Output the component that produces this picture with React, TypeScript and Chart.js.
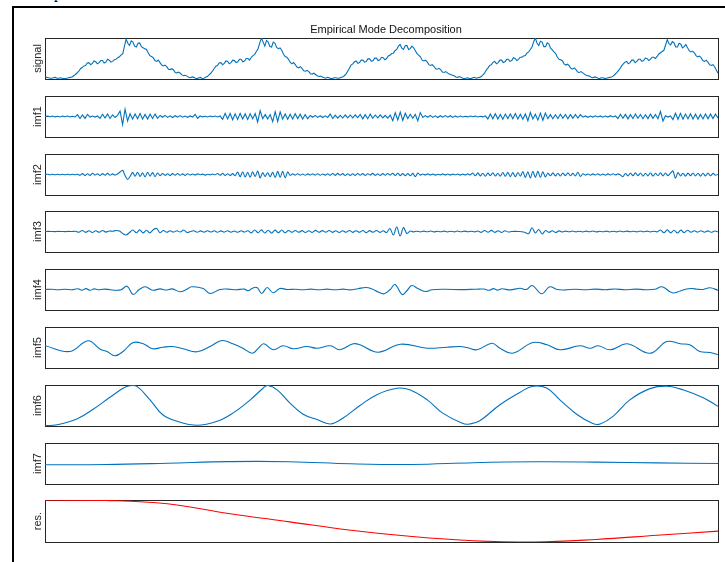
import React, { useEffect, useRef } from "react";
import { Chart, registerables } from "chart.js";

Chart.register(...registerables);

const TITLE = "Empirical Mode Decomposition";
const PANEL_LABELS = ["signal", "imf1", "imf2", "imf3", "imf4", "imf5", "imf6", "imf7", "res."];

// signal, sampled uniformly (0 = lowest, 100 = highest)
const signal = [
  6, 4, 3, 2, 2, 3, 4, 2, 2, 3, 2, 1, 1, 2, 3, 4, 5, 8, 11, 15,
  19, 25, 28, 32, 33, 39, 40, 35, 38, 44, 42, 37, 40, 45, 45, 39, 41, 48, 46, 41,
  43, 47, 48, 52, 54, 59, 62, 80, 97, 87, 82, 93, 90, 80, 78, 87, 88, 79, 76, 74,
  72, 64, 57, 55, 52, 45, 43, 46, 40, 34, 32, 34, 30, 24, 23, 25, 22, 16, 15, 17,
  14, 10, 8, 9, 7, 4, 3, 5, 4, 2, 1, 3, 4, 1, 2, 4, 6, 10, 14, 19,
  25, 31, 33, 39, 40, 35, 38, 44, 43, 37, 40, 46, 45, 40, 42, 48, 48, 42, 44, 50,
  50, 46, 53, 57, 60, 67, 74, 88, 100, 90, 80, 94, 90, 79, 78, 90, 87, 77, 74, 76,
  70, 61, 55, 53, 48, 41, 37, 40, 35, 29, 27, 30, 26, 20, 19, 21, 18, 13, 12, 14,
  11, 8, 6, 7, 5, 3, 2, 4, 3, 1, 1, 3, 3, 2, 2, 4, 5, 8, 12, 19,
  26, 34, 37, 42, 44, 38, 40, 46, 46, 41, 43, 49, 49, 43, 45, 51, 51, 45, 47, 53,
  52, 47, 50, 56, 58, 62, 63, 69, 72, 80, 84, 75, 72, 81, 82, 72, 74, 80, 76, 69,
  62, 58, 54, 46, 44, 46, 42, 35, 33, 35, 31, 25, 24, 26, 23, 17, 16, 18, 15, 12,
  11, 9, 8, 5, 4, 6, 4, 2, 1, 2, 3, 1, 1, 3, 4, 2, 3, 4, 6, 10,
  15, 22, 27, 33, 35, 41, 43, 37, 40, 46, 46, 40, 42, 48, 48, 43, 45, 52, 50, 45,
  48, 53, 53, 56, 57, 63, 66, 72, 78, 91, 100, 87, 82, 92, 90, 79, 79, 88, 85, 75,
  71, 66, 62, 53, 48, 47, 44, 37, 34, 36, 32, 26, 24, 27, 23, 17, 16, 18, 15, 12,
  9, 8, 7, 4, 3, 5, 4, 2, 1, 3, 3, 1, 2, 3, 4, 5, 7, 11, 15, 20,
  25, 32, 37, 41, 43, 37, 40, 46, 46, 40, 43, 48, 48, 43, 45, 51, 50, 45, 48, 53,
  53, 50, 55, 61, 64, 67, 70, 83, 96, 86, 83, 91, 88, 78, 78, 87, 85, 76, 79, 84,
  76, 69, 66, 68, 64, 57, 54, 56, 52, 45, 43, 46, 41, 35, 33, 35, 30, 22, 14,
];

const imf1 = [
  0, 0.4, -0.3, 0.5, -0.4, 0.3, -0.5, 0.4, -0.3, 0.5, -0.4, 0.3, -0.5,
  1.8, -2.1, 1.5, -1.9, 2.2,
  -0.5, 0.4, -0.6, 0.5,
  -1.8, 2.2, -1.6, 2.4, -2.0, 1.7,
  -1.0, 1.2,
  5.5, -8.0, 7.3, -4.5,
  2.8, -2.4, 2.6, -2.2, 2.9, -2.5, 2.1, -2.6, 2.3, -2.0, 2.4, -1.8,
  1.0, -0.8, 1.1, -0.9, 0.7, -1.0, 0.8, -0.6, 0.9, -0.7, 0.5, -0.8, 0.6, -0.5,
  2.2, -1.8,
  0.5, -0.4, 0.3, -0.5, 0.4, -0.3, 0.5, -0.4, 0.6,
  -2.8, 3.2, -2.5, 3.0, -3.3, 2.7, -2.9, 3.1, -2.4, 2.6, -3.0, 2.8, -2.2, 3.0,
  -5.5, 5.8,
  -2.2, 1.9, -2.4, 2.0,
  -5.2, 4.8, -5.0, 4.6,
  -2.6, 2.4, -2.8, 2.2, -2.5, 2.7, -2.1, 2.3, -2.6, 1.9, -2.2,
  1.0, -0.8, 1.1, -0.9, 0.8, -1.0, 0.7, -0.9,
  2.4, -2.0,
  1.4, -1.6, 1.2, -1.5, 1.7, -1.3, 1.5, -1.4, 1.6, -1.2,
  2.1, -2.3, 1.9, -2.2, 2.4, -1.8,
  1.5, -1.3, 1.6, -1.4, 1.2, -1.6, 1.4,
  -4.2, 3.8, -3.5, 4.4, -3.9, 3.2,
  -2.0, 2.2, -1.8, 2.1,
  -4.3, 3.9,
  -1.0, 0.9, -0.8, 1.1, -0.9, 0.7, -1.0, 0.8, -0.6, 0.9, -0.7, 0.8, -0.9, 0.6, -0.7,
  0.4, -0.5, 0.3, -0.4, 0.5, -0.3, 0.4, -0.5, 0.3, -0.4, 0.5,
  -2.4, 2.6, -2.2, 2.8, -2.5, 2.1, -2.7, 2.4, -2.0, 2.6, -2.3, 2.9, -2.6, 2.2, -2.8, 2.5,
  -4.2, 4.0,
  -2.5, 2.3,
  -3.6, 3.4, -3.8, 3.5,
  -2.1, 1.9, -2.2, 1.8, -2.0, 2.3, -1.7, 2.0, -2.2, 1.9, -1.8, 2.1, -1.6, 1.8,
  -0.7, 0.6, -0.8, 0.5, -0.6, 0.7, -0.5, 0.6, -0.7, 0.5, -0.6, 0.8, -0.5, 0.6,
  -2.0, 2.2, -1.8, 2.1, -2.3, 1.9, -2.0, 2.4, -1.7, 2.0, -2.2, 1.8, -2.1, 2.3, -1.9, 2.0, -2.2,
  5.0, -4.6,
  0.7, -0.6, 0.5,
  -3.0, 3.2, -2.8, 3.1,
  -2.6, 2.4, -2.2, 2.7, -2.5, 2.3, -2.6, 2.1, -2.4, 2.6, -2.3, 2.5, -2.1, 2.4, -1.5,
];

const imf2 = [
  0, 0.3, -0.2, 0.3, -0.3, 0.2, -0.3, 0.3, -0.2, 0.3, -0.3, 0.2, -0.2, 0.3,
  -0.8, 0.9, -1.1, 0.7, -0.9, 1.2, -0.6, 0.8, -1.0, 0.9, -0.7, 1.1, -0.8, 0.6, -0.5,
  0.5, 2.5, 4.3, -1, -5, -2,
  2.1, -1.8, 2.3, -2.0, 1.7, -2.4, 2.2, -1.6, 1.9, -2.1, 1.5, -1.2,
  1.0, -0.9, 0.8, -1.1, 0.9, -0.7, 1.0, -0.8, 0.6, -0.9, 0.7, -0.5,
  0.5, -0.4, 0.6, -0.3, 0.4, -0.6, 0.3, -0.4, 0.5, -0.3,
  1.0, -0.8, 1.2, -0.9, 0.7, -1.1, 0.9, -1.2,
  2.4, -2.2, 2.7, -2.5, 2.1, -2.8, 2.6, -2.0,
  3.5, -3.5, 2,
  -2.0, 1.8, -2.2, 2.1,
  -3.0, 3.2, -2.8, 3.1, -3.3, 2.6,
  -0.8, 0.7, -0.6, 0.8, -0.7, 0.5, -0.8, 0.6, -0.5, 0.7, -0.6, 0.8, -0.7, 0.5, -0.6, 0.7, -0.8,
  1.0, -0.9, 1.1, -0.8, 0.9, -1.0, 0.7, -1.1, 0.8, -0.9, 1.0, -0.7, 0.9, -1.0, 0.8, -0.6, 1.1, -0.9, 0.7, -1.0, 0.9, -0.8, 1.0, -0.7,
  1.2, -1.0, 1.3, -1.1, 0.9, -1.2, 1.0, -1.3, 1.1,
  -2.2, 1.5,
  -0.6, 0.5, -0.4, 0.6, -0.5, 0.4, -0.6, 0.3, -0.5, 0.6, -0.4, 0.5, -0.6, 0.4, -0.3, 0.5, -0.6, 0.4, -0.5, 0.6, -0.4,
  1.5, -1.3, 1.6, -1.4, 1.2, -1.7, 1.4, -1.1, 1.6, -1.5, 1.3, -1.6,
  2.0, -1.8, 2.2, -2.1, 1.9, -2.3, 2.0, -1.7,
  3.0, -3.2, 2.8, -3.4, 3.3, -2.9, 3.1, -3.0, 2.7, -2.5,
  1.5, -1.3, 1.6, -1.4, 1.2, -1.5, 1.4, -1.2, 1.6, -1.3, 1.1, -1.4,
  2.2, -2.0,
  0.7, -0.6, 0.5, -0.7, 0.6, -0.5, 0.7, -0.6, 0.4, -0.7, 0.6, -0.5, 0.7, -0.4, 0.6, -0.5,
  -2.2, 1.0,
  -1.4, 1.5, -1.3, 1.6, -1.2, 1.5, -1.6, 1.3, -1.4, 1.7, -1.5, 1.2, -1.3, 1.6, -1.4, 1.5, -1.2, 1.4,
  3.5, -3.8, 2.0,
  -1.5, 1.3, -1.6, 1.4, -1.2, 1.5, -1.4, 1.3, -1.6, 1.2, -1.5, 1.4, -1.3, 1.1, -0.8, 0.3,
];

const imf3 = [
  0, 0.1, 0, -0.1, 0.1, 0, -0.1, 0.1, 0, 0.2,
  -0.8, 1.0, -0.9, 0.8, -1.0, 0.7, -0.8, 1.0, -0.6, 0.5,
  0.3, 1.0, 0.5, -2.0, -3.5, -1.0,
  1.5, -1.2, 1.6, -1.4, 1.3, -1.5, 1.8, 3.0, -1.2, 1.0,
  -0.8, 0.7, -0.6, 0.8, -0.5,
  1.5, -1.0, 0,
  0.7, -0.8, 0.6, -0.7, 0.8, -0.5, 0.7, -0.8, 0.6, -0.6, 0.8, -0.7, 0.5, -0.8, 0.7, -0.6, 0.8,
  -1.4, 1.5, -1.2, 1.6, -1.5, 1.3, -1.6, 1.4, -1.2, 1.5, -1.3, 1.0,
  -0.9, 1.0, -0.8, 0.9, -1.0, 0.7, -0.9, 1.1, -0.8, 0.9, -0.7, 1.0, -0.9, 0.8, -1.0, 0.7, -0.8, 1.0, -0.9, 0.8, -0.7, 1.0, -1.1, 0.9, -0.8, 1.0, -0.9, 0.7, -1.0,
  3.0, -3.5, 4.5, -4.5, 4.0, -2.0,
  0.5, -0.4, 0.3, -0.5, 0.4, -0.3, 0.5, -0.4, 0.2, -0.3, 0.4, -0.5, 0.3, -0.4, 0.5, -0.3, 0.4, -0.2, 0.3, -0.4, 0.5,
  -0.9, 1.0, -0.8, 1.1, -0.9, 0.8, -1.0, 0.7, -0.5,
  0, 0.1, 0, -0.2,
  -1.0, -2.2, 3.7, -1.5, 2.0, -2.5,
  1.0, -0.9, 0.8, -1.0, 0.6,
  -0.5, 0.4, -0.3, 0.5, -0.4, 0.3, -0.5, 0.4, -0.3, 0.5, -0.4, 0.2, -0.3, 0.4, -0.5, 0.3, -0.4, 0.5, -0.3, 0.4, -0.2, 0.3, -0.4, 0.5, -0.3, 0.4, -0.5, 0.3, -0.4,
  1.5, -1.3, 1.6, -1.4, 1.2, -1.5, 1.4, -1.2, 1.3,
  -0.8, 0.7, -0.6, 0.8, -0.7, 0.6, -0.8, 0.5, -0.3,
];

// imf4 / imf5 / imf6: sample time (0..1000) and value
const imf4Time = [
  0, 10, 19, 30, 40, 49, 55, 61, 67, 73, 79, 88, 97, 106, 113, 122, 131, 140, 149, 160,
  171, 180, 189, 201, 210, 218, 235, 245, 260, 272, 284, 296, 302, 308, 315, 322, 330, 339, 349, 360,
  372, 383, 395, 407, 419, 431, 443, 453, 465, 477, 486, 495, 504, 513, 520, 531, 538, 545, 554, 565,
  575, 594, 617, 639, 652, 660, 666, 672, 679, 691, 706, 715, 724, 738, 750, 761, 773, 788, 802, 817,
  832, 847, 862, 877, 892, 906, 917, 932, 944, 953, 961, 969, 978, 988, 1000,
];
const imf4 = [
  0, 0.3, -0.2, 0.3, -0.2, 0.8, -0.7, 0.9, -0.8, 0.6, -0.3, 0.4, -0.2, -0.8, -0.3, 3.3, -5, 0, 2.7, -0.7,
  0.6, -0.5, 0.6, -2.3, 0, 2.7, 1, -4, 0, 0.4, -0.3, 0.4, -1.3, 1.3, 2, -4, 2, -3.3, 1, 0,
  0.3, -0.3, 0.4, -0.3, 0.4, -0.3, 0.4, -0.4, 0.8, 2.0, 0.5, -2.5, -4.3, 0, 5, -5, -1, 4, 1, -2,
  -0.3, 0.2, -0.1, 0.2, 0.5, -0.8, 0.9, -0.6, 0.7, -0.4, 1.2, 0, 4, -4.3, 2.7, 0, -0.4, 0.3, -0.3, 0.4,
  -0.2, 0.5, -0.3, 0.4, -0.2, 0.2, 2.7, -3.3, -1.5, 0.5, 1, 0.3, 0, 1.7, -0.7,
];

const imf5Time = [
  0, 37, 64, 82, 92, 104, 116, 131, 146, 160, 175, 190, 205, 226, 245, 263, 279, 294, 308, 317,
  325, 339, 354, 369, 389, 404, 424, 438, 458, 468, 495, 528, 568, 597, 617, 627, 642, 664, 676, 695,
  725, 746, 765, 795, 810, 822, 840, 865, 899, 924, 944, 958, 973, 988, 1000,
];
const imf5 = [
  1.7, -4, 6.7, -1.7, -4, -8.3, -4, 5, 3.7, -1.3, 0.3, 1, -1.3, -4.3, 1, 7, 3.7, -0.7, -5.7, -0.7,
  3.7, -2.3, 1.7, -1.3, 1, -0.7, 1.7, -2.3, 3.7, 2.7, -4.7, 3.3, -0.7, 0.3, 1, 0, -2.3, 4.3, -0.7, -5.7,
  5, 2.7, -2.3, 1.7, -0.7, 1.7, -2.3, 3.7, -5.7, 6, 3.7, 2.7, -4, -5, -7,
];

const imf6Time = [
  0, 18, 48, 71, 97, 116, 126, 137, 156, 175, 196, 226, 256, 279, 305, 324, 331, 345, 364, 383,
  404, 424, 443, 468, 493, 523, 542, 568, 591, 621, 631, 646, 676, 706, 725, 746, 765, 791, 814, 825,
  844, 869, 899, 924, 948, 978, 1000,
];
const imf6 = [
  0, 0.02, 0.17, 0.4, 0.71, 0.93, 0.99, 0.97, 0.64, 0.27, 0.11, 0.01, 0.11, 0.31, 0.64, 0.93, 1.0, 0.89, 0.56, 0.29,
  0.15, 0.04, 0.19, 0.5, 0.77, 0.93, 0.89, 0.64, 0.31, 0.05, 0.04, 0.12, 0.52, 0.83, 0.98, 0.93, 0.64, 0.27, 0.05, 0.04,
  0.23, 0.64, 0.92, 0.98, 0.89, 0.69, 0.48,
];

const imf7 = [-1.3, -1.0, 0.3, 1.9, 1.8, -0.3, -1.0, 0.8, 1.7, 1.4, 0.6, 0];
const residue = [1.0, 0.99, 0.91, 0.68, 0.48, 0.28, 0.13, 0.03, 0.0, 0.06, 0.16, 0.26];

const BLUE = "#0072BD";
const RED = "#FF0000";
const FONT = "'Liberation Sans', Arial, Helvetica, sans-serif";

type Series = {
  label: string;
  t: number[] | null;
  v: number[];
  yMin: number;
  yMax: number;
  color: string;
  tension: number;
};

const SERIES: Series[] = [
  { label: PANEL_LABELS[0], t: null, v: signal, yMin: 0, yMax: 100, color: BLUE, tension: 0 },
  { label: PANEL_LABELS[1], t: null, v: imf1, yMin: -20.5, yMax: 20.5, color: BLUE, tension: 0 },
  { label: PANEL_LABELS[2], t: null, v: imf2, yMin: -20.5, yMax: 20.5, color: BLUE, tension: 0.3 },
  { label: PANEL_LABELS[3], t: null, v: imf3, yMin: -20.5, yMax: 20.5, color: BLUE, tension: 0.35 },
  { label: PANEL_LABELS[4], t: imf4Time, v: imf4, yMin: -20.5, yMax: 20.5, color: BLUE, tension: 0.4 },
  { label: PANEL_LABELS[5], t: imf5Time, v: imf5, yMin: -20.5, yMax: 20.5, color: BLUE, tension: 0.4 },
  { label: PANEL_LABELS[6], t: imf6Time, v: imf6, yMin: -0.01, yMax: 1.01, color: BLUE, tension: 0.4 },
  { label: PANEL_LABELS[7], t: null, v: imf7, yMin: -20.5, yMax: 20.5, color: BLUE, tension: 0.4 },
  { label: PANEL_LABELS[8], t: null, v: residue, yMin: 0, yMax: 1, color: RED, tension: 0.4 },
];

// layout (page coordinates; body margin removed so the root covers the whole window)
const CANVAS_LEFT = 20;
const CANVAS_WIDTH = 701;
const PAD_L = 25;
const PAD_R = 3;
const TOPS = [38, 96, 154, 211, 269, 327, 385, 443, 500];
const HEIGHTS = [41, 41, 41, 41, 41, 41, 41, 41, 42];

function Panel({ s, index }: { s: Series; index: number }) {
  const ref = useRef<HTMLCanvasElement | null>(null);
  const isFirst = index === 0;
  const padTop = isFirst ? 22 : 4;
  const padBottom = 4;
  const h = HEIGHTS[index] + padTop + padBottom;
  const canvasTop = TOPS[index] - padTop;

  useEffect(() => {
    const canvas = ref.current;
    if (!canvas) return;
    const xs = s.t ? s.t : s.v.map((_, i) => i);
    const xMax = s.t ? s.t[s.t.length - 1] : s.v.length - 1;
    const decor = {
      id: "decor" + index,
      beforeDatasetsDraw(chart: any) {
        const { ctx, chartArea } = chart;
        const { left, top, right, bottom } = chartArea;
        ctx.save();
        ctx.strokeStyle = "#262626";
        ctx.lineWidth = 1;
        ctx.strokeRect(
          Math.round(left) + 0.5,
          Math.round(top) + 0.5,
          Math.round(right - left),
          Math.round(bottom - top)
        );
        ctx.restore();
      },
      afterDraw(chart: any) {
        const { ctx, chartArea } = chart;
        const { left, top, right, bottom } = chartArea;
        ctx.save();
        ctx.fillStyle = "#262626";
        ctx.font = `11px ${FONT}`;
        ctx.textAlign = "center";
        ctx.textBaseline = "alphabetic";
        ctx.translate(40.5 - CANVAS_LEFT, (top + bottom) / 2);
        ctx.rotate(-Math.PI / 2);
        ctx.fillText(s.label, 0, 0);
        ctx.restore();
        if (isFirst) {
          ctx.save();
          ctx.fillStyle = "#111";
          ctx.font = `11px ${FONT}`;
          ctx.textAlign = "center";
          ctx.textBaseline = "alphabetic";
          ctx.fillText(TITLE, (left + right) / 2 + 4.5, top - 5);
          ctx.restore();
        }
      },
    };
    const chart = new Chart(canvas, {
      type: "line",
      data: {
        datasets: [
          {
            data: xs.map((x, i) => ({ x, y: s.v[i] })),
            borderColor: s.color,
            borderWidth: 1.1,
            pointRadius: 0,
            tension: s.tension,
            fill: false,
          },
        ],
      },
      options: {
        animation: false,
        responsive: false,
        maintainAspectRatio: false,
        devicePixelRatio: 1,
        events: [],
        layout: { padding: { left: PAD_L, right: PAD_R, top: padTop, bottom: padBottom } },
        scales: {
          x: { type: "linear", display: false, min: 0, max: xMax },
          y: { type: "linear", display: false, min: s.yMin, max: s.yMax },
        },
        plugins: {
          legend: { display: false },
          tooltip: { enabled: false },
          title: { display: false },
        },
      },
      plugins: [decor],
    } as any);
    return () => chart.destroy();
  }, []);

  return (
    <canvas
      ref={ref}
      width={CANVAS_WIDTH}
      height={h}
      style={{
        position: "absolute",
        left: CANVAS_LEFT,
        top: canvasTop,
        width: CANVAS_WIDTH,
        height: h,
      }}
    />
  );
}

export default function App() {
  return (
    <div style={{ position: "relative", width: 725, height: 562, overflow: "hidden", background: "#fff" }}>
      <style>{"html, body { margin: 0; padding: 0; }"}</style>
      <div
        style={{
          position: "absolute",
          left: 12,
          top: 6,
          width: 713,
          height: 556,
          borderTop: "2px solid #000",
          borderLeft: "2px solid #000",
          boxSizing: "border-box",
        }}
      />
      <span
        style={{
          position: "absolute",
          left: 54,
          top: -15,
          font: "16px 'Liberation Serif', serif",
          lineHeight: "16px",
          color: "#000",
        }}
      >
        p
      </span>
      {SERIES.map((s, i) => (
        <Panel key={s.label} s={s} index={i} />
      ))}
    </div>
  );
}
